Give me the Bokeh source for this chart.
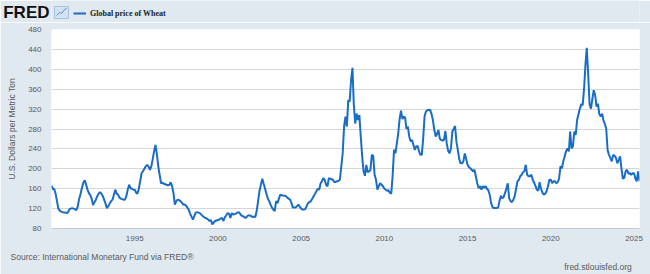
import pandas as pd
from bokeh.plotting import figure
from bokeh.layouts import column
from bokeh.models import (FixedTicker, DatetimeTickFormatter, Range1d, Legend,
                          LegendItem, LinearAxis)
from bokeh.embed import file_html
from bokeh.resources import INLINE

# ---- data (monthly, USD per metric ton) ----
start_month = "1990-01-01"
wheat_1990s = [
    166, 159, 160, 150, 135, 120, 116, 114, 113, 112, 112, 111,
    113, 119, 120, 121, 120, 119, 117, 125, 140, 150, 162, 172,
    177, 168, 158, 151, 147, 140, 127, 133, 138, 145, 150, 153,
    150, 145, 138, 130, 121, 125, 130, 135, 138, 148, 158, 150,
    148, 142, 140, 139, 138, 138, 145, 158, 168, 161, 160, 158,
    158, 152, 150, 160, 175, 191, 195, 200, 205, 208, 205, 198,
    205, 220, 235, 248, 230, 205, 188, 171, 172, 170, 169, 168,
    167, 168, 173, 165, 151, 128, 135, 138, 137, 135, 132, 128,
    128, 126, 122, 118, 110, 104, 98, 105, 112, 113, 112, 111,
    108, 105, 103, 101, 100, 98, 95, 97, 88, 92, 95, 96,
]
wheat_2000s = [
    97, 98, 100, 101, 95, 103, 106, 111, 110, 101, 111, 108,
    109, 110, 112, 113, 110, 106, 105, 103, 101, 104, 107, 106,
    105, 103, 104, 103, 115, 135, 155, 168, 180, 170, 160, 150,
    140, 135, 128, 122, 118, 115, 135, 131, 140, 148, 147, 146,
    146, 145, 142, 140, 138, 132, 122, 122, 122, 125, 128, 124,
    120, 118, 118, 119, 125, 131, 133, 135, 140, 145, 150, 155,
    160, 158, 170, 175, 181, 178, 168, 165, 181, 180, 179, 178,
    173, 174, 175, 176, 178, 205, 231, 285, 305, 285, 338, 335,
    378, 403, 330, 291, 311, 298, 308, 265, 225, 195, 186, 208,
    193, 195, 198, 228, 226, 188, 178, 158, 165, 171, 168, 165,
]
wheat_2010s = [
    160, 158, 156, 157, 152, 150, 185, 238, 231, 250, 271, 300,
    317, 300, 305, 303, 280, 285, 265, 255, 258, 248, 238, 245,
    246, 235, 228, 228, 260, 305, 315, 318, 318, 319, 310, 298,
    278, 265, 270, 278, 261, 258, 257, 258, 276, 251, 236, 231,
    241, 275, 280, 286, 255, 238, 220, 211, 211, 215, 231, 220,
    208, 203, 201, 198, 195, 198, 185, 171, 161, 165, 158, 165,
    162, 165, 160, 157, 148, 131, 123, 121, 121, 121, 122, 135,
    146, 141, 143, 151, 160, 171, 141, 135, 133, 138, 145, 160,
    175, 178, 185, 188, 193, 195, 208, 188, 185, 185, 188, 178,
    172, 165, 158, 156, 173, 160, 152, 148, 150, 155, 165, 178,
]
wheat_2020s = [
    178, 171, 175, 175, 171, 173, 180, 205, 201, 215, 225, 235,
    241, 235, 275, 241, 245, 275, 268, 298, 310, 321, 330, 328,
    361, 411, 443, 390, 330, 321, 340, 358, 348, 325, 331, 310,
    305, 311, 298, 290, 281, 238, 228, 222, 215, 228, 226, 222,
    211, 218, 225, 200, 180, 182, 195, 198, 190, 191, 188, 191,
    191, 180, 175, 195, 175,
]
y_ticks = [80, 120, 160, 200, 240, 280, 320, 360, 400, 440, 480]
x_tick_years = [1995, 2000, 2005, 2010, 2015, 2020, 2025]
series_name = "Global price of Wheat"
y_label = "U.S. Dollars per Metric Ton"
logo_text = "FRED"
source_text = "Source: International Monetary Fund via FRED\u00ae"
site_text = "fred.stlouisfed.org"

values = wheat_1990s + wheat_2000s + wheat_2010s + wheat_2020s
dates = pd.date_range(start=start_month, periods=len(values), freq="MS")

BG = "#e1e9f0"
LINE = "#1a6dc6"
GRAY = "#595959"
FONT = "Liberation Sans"
W = 650
HEAD_H, MAIN_H = 22, 252
LEFT, RIGHT = 51, 11


def plain_axis(ax, size, color, standoff):
    ax.axis_line_color = None
    ax.major_tick_line_color = None
    ax.minor_tick_line_color = None
    ax.major_tick_out = 0
    ax.major_tick_in = 0
    ax.major_label_text_font = FONT
    ax.major_label_text_font_size = size
    ax.major_label_text_color = color
    ax.major_label_standoff = standoff


# ---------------- header: logo + icon + legend ----------------
head = figure(width=W, height=HEAD_H, title=None, output_backend="svg",
              toolbar_location=None, x_axis_location=None,
              y_axis_location="left",
              min_border_left=LEFT, min_border_right=RIGHT,
              min_border_top=0, min_border_bottom=0,
              x_range=Range1d(LEFT, W - RIGHT), y_range=Range1d(HEAD_H, 0))
head.border_fill_color = BG
head.background_fill_color = BG
head.outline_line_color = None
head.xgrid.visible = False
head.ygrid.visible = False
# the logo is the single label of the header's left axis
head.yaxis.ticker = FixedTicker(ticks=[13])
head.yaxis.major_label_overrides = {13: logo_text}
plain_axis(head.yaxis[0], "17px", "#111111", 2)
head.yaxis.major_label_text_font_style = "bold"
# small chart icon next to the logo
head.quad(left=[54], right=[68], top=[6], bottom=[18],
          fill_color="#d3e2f1", line_color="#a8c1dc", line_width=1)
head.line([56, 59, 61, 64, 66], [15, 12, 13, 9, 8],
          line_color="#5b8fd0", line_width=1)
# legend swatch source: a line styled like the series, kept off the frame
sample = head.line([0, 1], [0, 0], line_color=LINE, line_width=2)
head.add_layout(Legend(items=[LegendItem(label=series_name,
                                          renderers=[sample])],
                       location=(22, 4), orientation="horizontal",
                       background_fill_alpha=0, border_line_color=None,
                       padding=0, margin=0, spacing=0,
                       glyph_width=13, glyph_height=10, label_standoff=4,
                       label_text_font="Liberation Serif",
                       label_text_font_style="bold",
                       label_text_font_size="8px",
                       label_text_color="#222222", label_height=10),
                "center")

# ---------------- main chart ----------------
p = figure(width=W, height=MAIN_H, title=None, x_axis_type="datetime",
           output_backend="svg", toolbar_location=None,
           min_border_left=LEFT, min_border_right=RIGHT,
           min_border_top=7, min_border_bottom=45)
p.border_fill_color = BG
p.background_fill_color = "white"
p.outline_line_color = None
p.x_range = Range1d(dates[0], dates[-1])
p.y_range = Range1d(y_ticks[0], y_ticks[-1])

p.line(dates, values, line_color=LINE, line_width=2)

p.xaxis.ticker = FixedTicker(ticks=[pd.Timestamp(f"{y}-01-01").value / 1e6
                                    for y in x_tick_years])
p.xaxis.formatter = DatetimeTickFormatter(years="%Y", months="%Y", days="%Y",
                                          hours="%Y", minutes="%Y")
plain_axis(p.xaxis[0], "8px", GRAY, 7)
p.xaxis.axis_line_color = "#c9c9c9"

p.yaxis.ticker = FixedTicker(ticks=y_ticks)
plain_axis(p.yaxis[0], "8px", GRAY, 10)
p.yaxis.axis_label = y_label
p.yaxis.axis_label_text_font = FONT
p.yaxis.axis_label_text_font_style = "normal"
p.yaxis.axis_label_text_font_size = "8.5px"
p.yaxis.axis_label_text_color = GRAY
p.yaxis.axis_label_standoff = 8

p.xgrid.grid_line_color = None
p.ygrid.grid_line_color = "#d6d6d6"
p.ygrid.grid_line_width = 1

# footer texts as single-label axes below the date axis (pixel range)
p.extra_x_ranges = {"px": Range1d(LEFT, W - RIGHT)}
src_pos, site_pos = 101.5, 597.5
src_axis = LinearAxis(x_range_name="px", ticker=FixedTicker(ticks=[src_pos]),
                      major_label_overrides={src_pos: source_text})
plain_axis(src_axis, "8.5px", GRAY, 8)
p.add_layout(src_axis, "below")
site_axis = LinearAxis(x_range_name="px", ticker=FixedTicker(ticks=[site_pos]),
                       major_label_overrides={site_pos: site_text})
plain_axis(site_axis, "8.5px", GRAY, -3)
p.add_layout(site_axis, "below")

layout = column(head, p, spacing=0)
open("out.html", "w").write(file_html(layout, INLINE))
